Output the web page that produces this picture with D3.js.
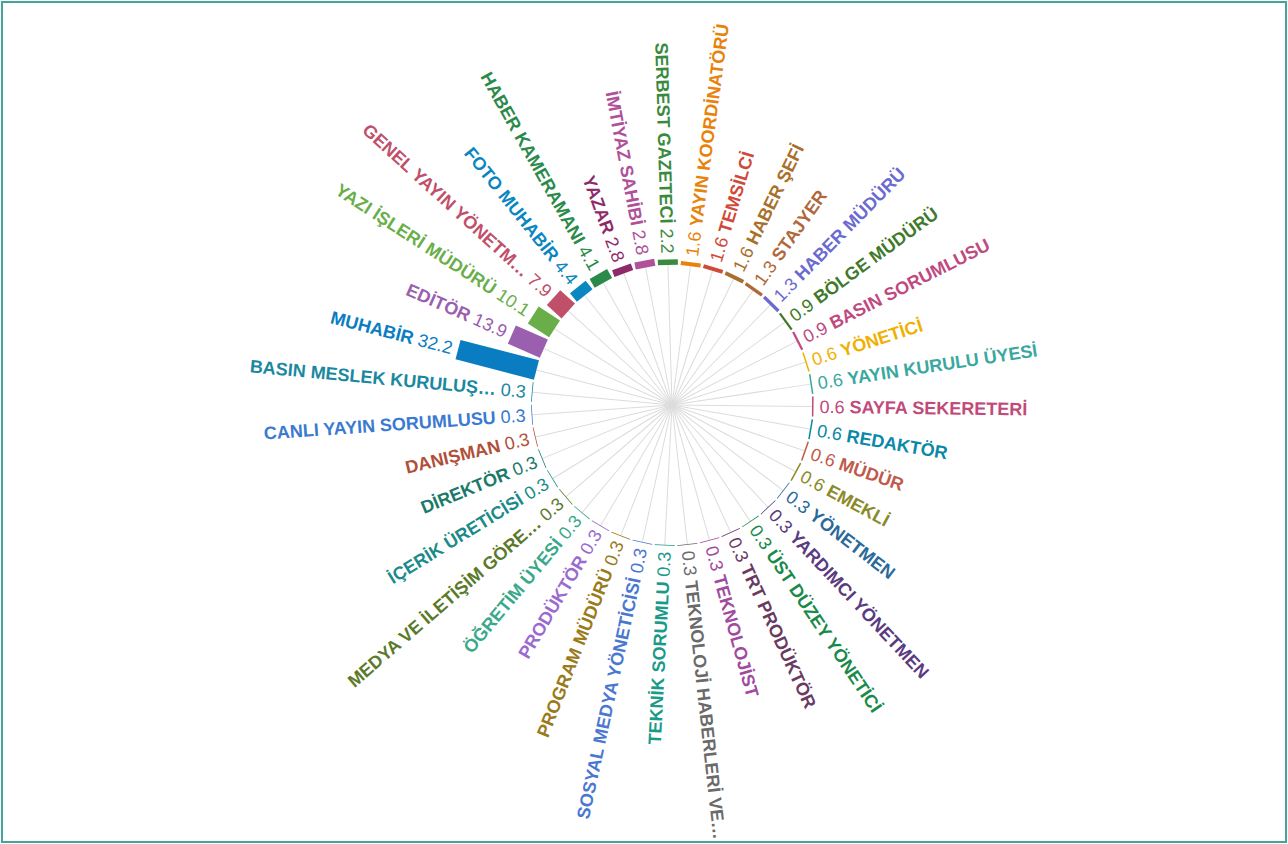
<!DOCTYPE html>
<html>
<head>
<meta charset="utf-8">
<script src="https://cdn.jsdelivr.net/npm/d3@7"></script>
<style>
  html, body { margin: 0; padding: 0; background: #fff; }
  svg { display: block; }
</style>
</head>
<body>
<svg id="chart" width="1288" height="844"></svg>
<script>
const categories = [
  "MUHABİR", "EDİTÖR", "YAZI İŞLERİ MÜDÜRÜ", "GENEL YAYIN YÖNETM…", "FOTO MUHABİR",
  "HABER KAMERAMANI", "YAZAR", "İMTİYAZ SAHİBİ", "SERBEST GAZETECİ", "YAYIN KOORDİNATÖRÜ",
  "TEMSİLCİ", "HABER ŞEFİ", "STAJYER", "HABER MÜDÜRÜ", "BÖLGE MÜDÜRÜ",
  "BASIN SORUMLUSU", "YÖNETİCİ", "YAYIN KURULU ÜYESİ", "SAYFA SEKERETERİ", "REDAKTÖR",
  "MÜDÜR", "EMEKLİ", "YÖNETMEN", "YARDIMCI YÖNETMEN", "ÜST DÜZEY YÖNETİCİ",
  "TRT PRODÜKTÖR", "TEKNOLOJİST", "TEKNOLOJİ HABERLERİ VE…", "TEKNİK SORUMLU", "SOSYAL MEDYA YÖNETİCİSİ",
  "PROGRAM MÜDÜRÜ", "PRODÜKTÖR", "ÖĞRETİM ÜYESİ", "MEDYA VE İLETİŞİM GÖRE…", "İÇERİK ÜRETİCİSİ",
  "DİREKTÖR", "DANIŞMAN", "CANLI YAYIN SORUMLUSU", "BASIN MESLEK KURULUŞ…"
];
const values = [
  32.2, 13.9, 10.1, 7.9, 4.4,
  4.1, 2.8, 2.8, 2.2, 1.6,
  1.6, 1.6, 1.3, 1.3, 0.9,
  0.9, 0.6, 0.6, 0.6, 0.6,
  0.6, 0.6, 0.3, 0.3, 0.3,
  0.3, 0.3, 0.3, 0.3, 0.3,
  0.3, 0.3, 0.3, 0.3, 0.3,
  0.3, 0.3, 0.3, 0.3
];
const colors = [
  "#0a7dc2", "#9b5fb0", "#6aae4a", "#c0506a", "#0a86c0",
  "#2a8a4a", "#8e2a6a", "#b0509a", "#3a8a3e", "#e8820a",
  "#d04a3a", "#a8702a", "#b0683a", "#6a6ad0", "#3e7a2a",
  "#c04a80", "#f0b000", "#3aa8a0", "#c04a7a", "#0a88a8",
  "#c05a4a", "#8a8a2a", "#2a6a9a", "#5a3a80", "#1a8a4a",
  "#6a3a60", "#a04aa0", "#6a6a6a", "#1a9a88", "#4a78d0",
  "#9a7a1a", "#9a6ad0", "#3aa88a", "#5a7a2a", "#1a8a8a",
  "#1a7a6a", "#b0503a", "#3a7ad0", "#1a88a0"
];

const data = categories.map((c, i) => ({ name: c, value: values[i], color: colors[i] }));

const svg = d3.select("#chart");
const W = 1288, H = 844;
const cx = 672, cy = 405;
const innerR = 140, outerR = 221;
const firstCenterDeg = -75.5;
const slot = 360 / categories.length;
const startRad = (firstCenterDeg - slot / 2) * Math.PI / 180;

const angle = d3.scaleBand()
  .domain(categories)
  .range([startRad, startRad + 2 * Math.PI])
  .padding(0);

const radius = d3.scaleLinear()
  .domain([0, d3.max(values)])
  .range([innerR, outerR]);

// frame
svg.append("rect")
  .attr("x", 2).attr("y", 2)
  .attr("width", W - 4).attr("height", H - 4)
  .attr("fill", "none")
  .attr("stroke", "#44a39b")
  .attr("stroke-width", 2);

const g = svg.append("g").attr("transform", `translate(${cx},${cy})`);

const centerDeg = d => ((angle(d.name) + angle.bandwidth() / 2) * 180 / Math.PI);
const normDeg = d => ((centerDeg(d) % 360) + 360) % 360;

// spokes
g.append("g").selectAll("line")
  .data(data)
  .join("line")
  .attr("transform", d => `rotate(${centerDeg(d) - 90})`)
  .attr("x1", 0).attr("y1", 0)
  .attr("x2", innerR).attr("y2", 0)
  .attr("stroke", "#dcdcdc")
  .attr("stroke-width", 1);

const barW = 20;
const items = g.append("g").selectAll("g")
  .data(data)
  .join("g")
  .attr("transform", d => `rotate(${centerDeg(d) - 90})`);

items.append("rect")
  .attr("x", innerR)
  .attr("y", -barW / 2)
  .attr("width", d => radius(d.value) - innerR)
  .attr("height", barW)
  .attr("fill", d => d.color);

const labels = items.append("text")
  .attr("transform", d => {
    const r = radius(d.value) + 6;
    return normDeg(d) > 180 ? `translate(${r},0) rotate(180)` : `translate(${r},0)`;
  })
  .attr("text-anchor", d => normDeg(d) > 180 ? "end" : "start")
  .attr("dy", "0.35em")
  .attr("font-family", "'Liberation Sans', Arial, Helvetica, sans-serif")
  .attr("font-size", 18)
  .attr("fill", d => d.color);

labels.each(function(d) {
  const t = d3.select(this);
  const flipped = normDeg(d) > 180;
  if (flipped) {
    t.append("tspan").attr("font-weight", "bold").text(d.name);
    t.append("tspan").attr("font-weight", "normal").text(" " + d.value);
  } else {
    t.append("tspan").attr("font-weight", "normal").text(d.value + " ");
    t.append("tspan").attr("font-weight", "bold").text(d.name);
  }
});
</script>
</body>
</html>
